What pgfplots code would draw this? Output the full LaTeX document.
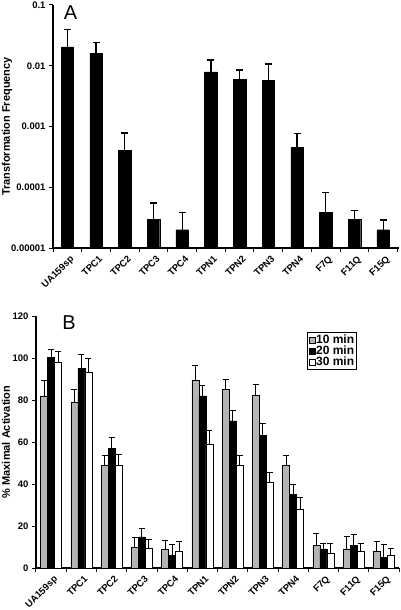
\documentclass[border=0pt]{standalone}
\usepackage{pgfplots}
\pgfplotsset{compat=1.18}
\usepackage{pgfplotstable}
\usepackage{fontspec}
\setmainfont{Liberation Sans}
\definecolor{gray10}{RGB}{180,180,180}

\pgfplotstableread{
x y e
0 0.0204 0.0186
1 0.016 0.0085
2 0.0004 0.00038
3 0.00003 0.000025
4 0.00002 0.000019
5 0.0079 0.0045
6 0.0060 0.0025
7 0.0058 0.0049
8 0.00045 0.00032
9 0.000039 0.000042
10 0.00003 0.000011
11 0.00002 0.000009
}\dataA

\pgfplotstableread{
x y e
0 82.0 7.2
1 79.0 6.1
2 49.0 4.6
3 9.9 4.9
4 9.1 4.1
5 89.3 7.0
6 85.1 4.9
7 82.2 5.2
8 49.1 4.6
9 10.8 5.9
10 9.1 6.0
11 8.1 4.5
}\dataTen

\pgfplotstableread{
x y e
0 100.2 3.9
1 95.1 6.6
2 56.9 5.1
3 14.8 4.1
4 6.0 5.1
5 82.0 4.8
6 70.1 4.9
7 63.3 5.5
8 35.0 4.7
9 9.1 2.5
10 10.8 5.1
11 4.9 6.2
}\dataTwenty

\pgfplotstableread{
x y e
0 98.1 5.2
1 93.2 6.5
2 49.0 4.9
3 9.2 4.3
4 8.1 4.5
5 59.0 6.5
6 49.1 4.5
7 40.9 4.6
8 27.8 5.9
9 6.8 4.8
10 7.9 3.7
11 5.9 3.3
}\dataThirty

\begin{document}
\begin{tikzpicture}
\path[use as bounding box] (0,0) rectangle (400pt,-610pt);
\pgfplotsset{
 common/.style={
  scale only axis, axis lines*=left, tick align=outside,
  axis line style={line width=1.3pt},
  tick style={line width=1pt, black},
  major tick length=4pt,
  ticklabel style={font=\fontsize{9.5}{11}\selectfont\bfseries},
  /pgf/number format/assume math mode=true,
  xtick={-0.5,0.5,1.5,2.5,3.5,4.5,5.5,6.5,7.5,8.5,9.5,10.5,11.5},
  xticklabels={},
  extra x ticks={0,1,2,3,4,5,6,7,8,9,10,11},
  extra x tick labels={UA159sp,TPC1,TPC2,TPC3,TPC4,TPN1,TPN2,TPN3,TPN4,F7Q,F11Q,F15Q},
  extra x tick style={major tick length=0pt, tick style={draw=none},
    xticklabel style={rotate=45, anchor=north east, yshift=-3pt}},
  ylabel style={font=\fontsize{11}{13}\selectfont\bfseries, anchor=center},
  clip=false,
 }
}
\begin{axis}[common, at={(53pt,-248pt)}, anchor=south west, width=346pt, height=243pt,
  ymode=log, log origin=infty, ymin=1e-5, ymax=0.1, xmin=-0.5, xmax=11.55,
  ytick={1e-5,1e-4,1e-3,1e-2,1e-1}, yticklabels={0.00001,0.0001,0.001,0.01,0.1},
  yminorticks=false,
  ylabel={Transformation Frequency},
  ylabel style={at={(axis description cs:-0.133,0.5)}},
  ybar, bar width=12.5pt,
]
\addplot[fill=black, draw=black,
  error bars/.cd, y dir=plus, y explicit,
  error mark options={rotate=90, mark size=3.5pt, line width=1.2pt, black},
  error bar style={line width=1.2pt, black}]
  table[x=x, y=y, y error=e] {\dataA};
\end{axis}

\begin{axis}[common, at={(36pt,-568pt)}, anchor=south west, width=363pt, height=252pt,
  ymin=0, ymax=120, xmin=-0.5, xmax=11.5,
  ytick={0,20,40,60,80,100,120},
  ylabel={\% Maximal Activation},
  ylabel style={at={(axis description cs:-0.083,0.5)}},
  ybar=0pt, bar width=7pt,
  legend style={at={(0.746,0.937)}, anchor=north west, draw=black, line width=0.6pt,
    font=\fontsize{12}{14}\selectfont\bfseries, inner sep=1.5pt, row sep=-1pt,
    nodes={inner sep=1pt}},
  legend cell align=left,
  legend image code/.code={\draw[#1, line width=0.5pt] (0pt,-3pt) rectangle (6pt,3pt);},
  every axis plot/.append style={
    error bars/y dir=plus, error bars/y explicit,
    error bars/error mark options={rotate=90, mark size=3pt, line width=0.8pt, black},
    error bars/error bar style={line width=0.8pt, black}},
]
\addplot[fill=gray10, draw=black, line width=0.5pt] table[x=x, y=y, y error=e] {\dataTen};
\addplot[fill=black, draw=black, line width=0.5pt] table[x=x, y=y, y error=e] {\dataTwenty};
\addplot[fill=white, draw=black, line width=0.5pt] table[x=x, y=y, y error=e] {\dataThirty};
\legend{10 min,20 min,30 min}
\end{axis}

\node[font=\fontsize{20}{24}\selectfont, inner sep=0pt] at (70.5pt,-13pt) {A};
\node[font=\fontsize{20}{24}\selectfont, inner sep=0pt] at (69pt,-322.5pt) {B};
\end{tikzpicture}
\end{document}
